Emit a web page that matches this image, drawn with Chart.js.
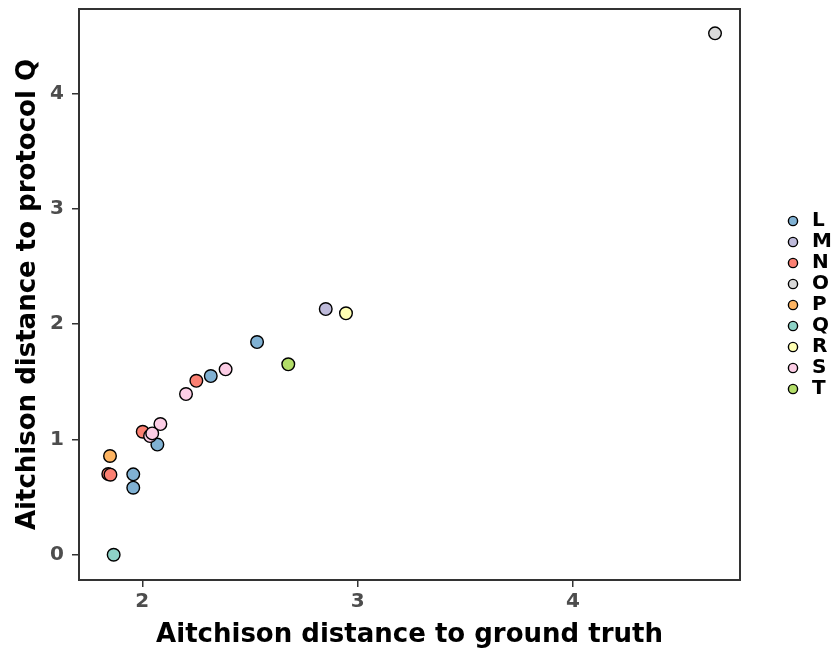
<!DOCTYPE html>
<html>
<head>
<meta charset="utf-8">
<script src="https://cdn.jsdelivr.net/npm/chart.js@4/dist/chart.umd.min.js"></script>
<style>
  html, body { margin: 0; padding: 0; background: #ffffff; }
  #wrap { width: 836px; height: 656px; }
</style>
</head>
<body>
<div id="wrap"><canvas id="chart" width="836" height="656"></canvas></div>
<script>
// Groups and their fill colours
const groups = ['L', 'M', 'N', 'O', 'P', 'Q', 'R', 'S', 'T'];
const groupColors = ['#80B1D3', '#BEBADA', '#FB8072', '#D9D9D9', '#FDB462', '#8DD3C7', '#FFFFB3', '#FCCDE5', '#B3DE69'];

// One entry per sample
const pointGroup = ['L', 'L', 'L', 'L', 'L', 'M', 'N', 'N', 'N', 'N', 'O', 'P', 'Q', 'R', 'S', 'S', 'S', 'S', 'S', 'T'];
const distToTruth = [2.533, 2.318, 2.070, 1.958, 1.958, 2.852, 2.251, 2.002, 1.842, 1.852, 4.660, 1.850, 1.867, 2.946, 2.387, 2.203, 2.084, 2.036, 2.046, 2.678];
const distToQ = [1.844, 1.549, 0.955, 0.697, 0.581, 2.130, 1.508, 1.066, 0.700, 0.694, 4.520, 0.856, 0.000, 2.093, 1.607, 1.393, 1.133, 1.029, 1.052, 1.651];

// Axis ticks and ranges
const xTickValues = [2, 3, 4];
const xTickLabels = ['2', '3', '4'];
const yTickValues = [0, 1, 2, 3, 4];
const yTickLabels = ['0', '1', '2', '3', '4'];
const xRange = [1.706, 4.776];
const yRange = [-0.219, 4.731];

const FONT = '"DejaVu Sans", Verdana, sans-serif';
const INK = '#333333';

const datasets = groups.map((g, gi) => ({
  label: g,
  data: pointGroup
    .map((pg, i) => (pg === g ? { x: distToTruth[i], y: distToQ[i] } : null))
    .filter(p => p !== null),
  backgroundColor: groupColors[gi],
  borderColor: '#000000',
  borderWidth: 1.4,
  pointRadius: 6.3,
  pointHoverRadius: 6.3,
  pointStyle: 'circle',
  order: -gi
}));

// Full panel frame around the plotting area
const panelFrame = {
  id: 'panelFrame',
  afterDatasetsDraw(chart) {
    const { ctx, chartArea: a } = chart;
    ctx.save();
    ctx.strokeStyle = INK;
    ctx.lineWidth = 2;
    ctx.strokeRect(a.left, a.top, a.right - a.left, a.bottom - a.top);
    ctx.restore();
  }
};

// Reserve a fixed strip for the legend and place its keys inside it
const legendStrip = {
  id: 'legendStrip',
  beforeInit(chart) {
    const baseFit = chart.legend.fit;
    chart.legend.fit = function () {
      baseFit.call(this);
      this.width = 96;
    };
  },
  afterLayout(chart) {
    chart.legend.left = 783;
    chart.legend.top = 210;
  }
};

new Chart(document.getElementById('chart'), {
  type: 'scatter',
  data: { datasets },
  plugins: [panelFrame, legendStrip],
  options: {
    responsive: false,
    animation: false,
    devicePixelRatio: 1,
    events: [],
    layout: { padding: { left: 0, top: 9, right: 0, bottom: 0 } },
    plugins: {
      tooltip: { enabled: false },
      legend: {
        position: 'right',
        align: 'start',
        labels: {
          usePointStyle: true,
          boxWidth: 18,
          boxHeight: 6.5,
          padding: 1,
          color: '#000000',
          font: { family: FONT, size: 20, weight: 'bold' },
          sort: (a, b) => a.datasetIndex - b.datasetIndex
        }
      }
    },
    scales: {
      x: {
        type: 'linear',
        min: xRange[0],
        max: xRange[1],
        afterBuildTicks: s => { s.ticks = xTickValues.map(v => ({ value: v })); },
        afterFit: s => { s.height = 76; s.paddingLeft = 0; s.paddingRight = 0; },
        border: { display: false },
        grid: { display: true, drawOnChartArea: false, drawTicks: true, tickLength: 7, color: INK, lineWidth: 1.5 },
        ticks: {
          padding: 3,
          color: '#4D4D4D',
          font: { family: FONT, size: 20, weight: 'bold' },
          callback: (v) => xTickLabels[xTickValues.indexOf(v)]
        },
        title: {
          display: true,
          text: 'Aitchison distance to ground truth',
          color: '#000000',
          font: { family: FONT, size: 26, weight: 'bold' },
          padding: { top: 0, bottom: 5 }
        }
      },
      y: {
        type: 'linear',
        min: yRange[0],
        max: yRange[1],
        afterBuildTicks: s => { s.ticks = yTickValues.map(v => ({ value: v })); },
        afterFit: s => { s.width = 79; s.paddingTop = 0; s.paddingBottom = 0; },
        border: { display: false },
        grid: { display: true, drawOnChartArea: false, drawTicks: true, tickLength: 7, color: INK, lineWidth: 1.5 },
        ticks: {
          padding: 8,
          color: '#4D4D4D',
          font: { family: FONT, size: 20, weight: 'bold' },
          callback: (v) => yTickLabels[yTickValues.indexOf(v)]
        },
        title: {
          display: true,
          text: 'Aitchison distance to protocol Q',
          color: '#000000',
          font: { family: FONT, size: 26, weight: 'bold' },
          padding: { top: 13, bottom: 0 }
        }
      }
    }
  }
});
</script>
</body>
</html>
